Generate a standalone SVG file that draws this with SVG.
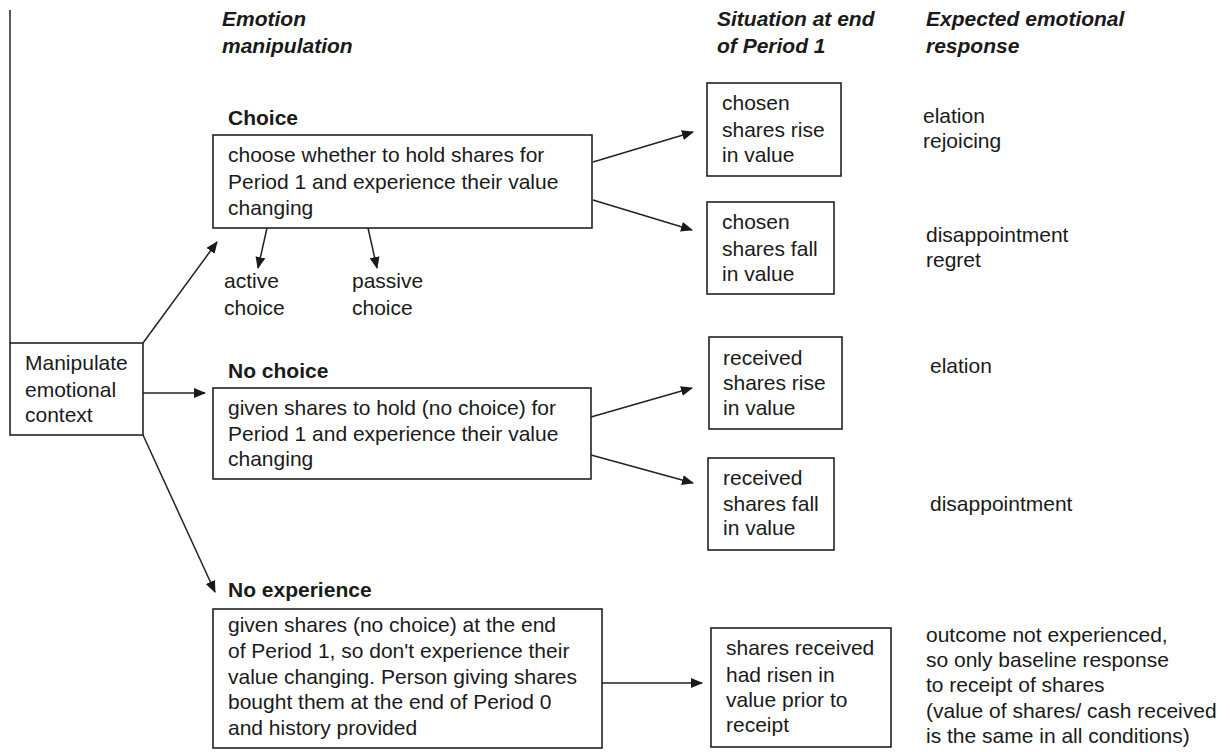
<svg xmlns="http://www.w3.org/2000/svg" width="1230" height="752" viewBox="0 0 1230 752">
<defs>
<marker id="ah" markerUnits="userSpaceOnUse" markerWidth="12" markerHeight="10" refX="11" refY="5" orient="auto">
<path d="M0,0 L12,5 L0,10 Z" fill="#1a1a1a"/>
</marker>
<style>
text{font-family:"Liberation Sans",Arial,sans-serif;font-size:21px;fill:#1a1a1a}
.hd{font-weight:bold;font-style:italic}
.bd{font-weight:bold}
.box{fill:#fff;stroke:#222;stroke-width:1.6}
.con{stroke:#222;stroke-width:1.5;fill:none}
.arr{stroke:#222;stroke-width:1.5;fill:none;marker-end:url(#ah)}
</style>
</defs>
<rect width="1230" height="752" fill="#fff"/>

<g id="headers">
<text class="hd" x="222" y="26">Emotion</text>
<text class="hd" x="222" y="53">manipulation</text>
<text class="hd" x="717" y="26">Situation at end</text>
<text class="hd" x="717" y="53">of Period 1</text>
<text class="hd" x="926" y="26">Expected emotional</text>
<text class="hd" x="926" y="53">response</text>
</g>

<g id="connectors">
<line class="con" x1="10" y1="10" x2="10" y2="343"/>
<line class="arr" x1="143" y1="343" x2="217" y2="242"/>
<line class="arr" x1="143" y1="393" x2="205" y2="393"/>
<line class="arr" x1="143" y1="435" x2="215" y2="592"/>
<line class="arr" x1="267" y1="228" x2="258" y2="268"/>
<line class="arr" x1="368" y1="228" x2="377" y2="268"/>
<line class="arr" x1="593" y1="162" x2="693" y2="132"/>
<line class="arr" x1="593" y1="200" x2="692" y2="230"/>
<line class="arr" x1="591" y1="417" x2="692" y2="388"/>
<line class="arr" x1="591" y1="455" x2="693" y2="483"/>
<line class="arr" x1="602" y1="683" x2="702" y2="683"/>
</g>

<g id="manipulate">
<rect class="box" x="10" y="343" width="133" height="92"/>
<text x="25" y="370">Manipulate</text>
<text x="25" y="397">emotional</text>
<text x="25" y="422">context</text>
</g>

<g id="choice">
<text class="bd" x="228" y="125">Choice</text>
<rect class="box" x="213" y="135" width="379" height="93"/>
<text x="228" y="162">choose whether to hold shares for</text>
<text x="228" y="189">Period 1 and experience their value</text>
<text x="228" y="215">changing</text>
</g>

<g id="active-choice">
<text x="224" y="288">active</text>
<text x="224" y="315">choice</text>
</g>

<g id="passive-choice">
<text x="352" y="288">passive</text>
<text x="352" y="315">choice</text>
</g>

<g id="no-choice">
<text class="bd" x="228" y="378">No choice</text>
<rect class="box" x="213" y="388" width="378" height="91"/>
<text x="228" y="415">given shares to hold (no choice) for</text>
<text x="228" y="441">Period 1 and experience their value</text>
<text x="228" y="466">changing</text>
</g>

<g id="no-experience">
<text class="bd" x="228" y="597">No experience</text>
<rect class="box" x="213" y="609" width="389" height="139"/>
<text x="228" y="632">given shares (no choice) at the end</text>
<text x="228" y="658">of Period 1, so don't experience their</text>
<text x="228" y="684">value changing. Person giving shares</text>
<text x="228" y="709">bought them at the end of Period 0</text>
<text x="228" y="735">and history provided</text>
</g>

<g id="chosen-rise">
<rect class="box" x="707" y="83" width="134" height="93"/>
<text x="722" y="110">chosen</text>
<text x="722" y="137">shares rise</text>
<text x="722" y="162">in value</text>
</g>

<g id="chosen-fall">
<rect class="box" x="707" y="202" width="127" height="92"/>
<text x="722" y="229">chosen</text>
<text x="722" y="256">shares fall</text>
<text x="722" y="281">in value</text>
</g>

<g id="received-rise">
<rect class="box" x="709" y="337" width="133" height="92"/>
<text x="723" y="365">received</text>
<text x="723" y="390">shares rise</text>
<text x="723" y="415">in value</text>
</g>

<g id="received-fall">
<rect class="box" x="708" y="458" width="126" height="92"/>
<text x="723" y="485">received</text>
<text x="723" y="511">shares fall</text>
<text x="723" y="535">in value</text>
</g>

<g id="shares-received">
<rect class="box" x="711" y="628" width="180" height="119"/>
<text x="726" y="655">shares received</text>
<text x="726" y="682">had risen in</text>
<text x="726" y="707">value prior to</text>
<text x="726" y="732">receipt</text>
</g>

<g id="responses">
<text x="923" y="123">elation</text>
<text x="923" y="148">rejoicing</text>
<text x="926" y="242">disappointment</text>
<text x="926" y="267">regret</text>
<text x="930" y="373">elation</text>
<text x="930" y="511">disappointment</text>
<text x="926" y="642">outcome not experienced,</text>
<text x="926" y="667">so only baseline response</text>
<text x="926" y="692">to receipt of shares</text>
<text x="926" y="718">(value of shares/ cash received</text>
<text x="926" y="743">is the same in all conditions)</text>
</g>
</svg>
